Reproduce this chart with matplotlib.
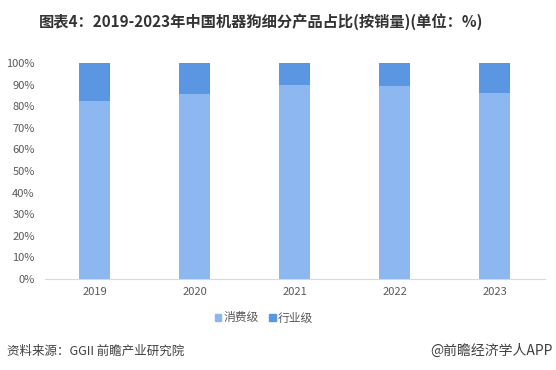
import matplotlib.pyplot as plt
from matplotlib.ticker import PercentFormatter
from matplotlib.patches import Patch

plt.rcParams['font.family'] = ['Noto Sans CJK SC', 'DejaVu Sans']

years = ['2019', '2020', '2021', '2022', '2023']
consumer = [82.5, 85.9, 90.1, 89.6, 86.4]
industry = [100 - v for v in consumer]
series_names = ['消费级', '行业级']
colors = ['#8DB7F0', '#5A96E2']

fig = plt.figure(figsize=(5.56, 3.70), dpi=100)
ax = fig.add_axes([44.5 / 556, 1 - 278.7 / 370, 500 / 556, 215.4 / 370])

x = range(len(years))
ax.bar(x, consumer, width=0.31, color=colors[0], zorder=2)
ax.bar(x, industry, width=0.31, bottom=consumer, color=colors[1], zorder=2)

ax.set_xlim(-0.5, len(years) - 0.5)
ax.set_ylim(0, 100)
ax.set_yticks(range(0, 101, 10))
ax.yaxis.set_major_formatter(PercentFormatter(decimals=0))
ax.set_xticks(list(x))
ax.set_xticklabels(years)
ax.tick_params(axis='both', length=0, labelsize=8, colors='#595959')
ax.tick_params(axis='y', pad=7)
ax.tick_params(axis='x', pad=6)
for side in ['top', 'right', 'left']:
    ax.spines[side].set_visible(False)
ax.spines['bottom'].set_color('#d9d9d9')

handles = [Patch(color=c) for c in colors]
fig.legend(handles, series_names, loc='center', bbox_to_anchor=(264 / 556, 1 - 318 / 370),
           ncol=2, frameon=False, fontsize=8.5, handlelength=0.55, handleheight=0.55,
           handletextpad=0.2, columnspacing=0.9, labelcolor='#595959')

fig.text(261 / 556, 1 - 22 / 370, '图表4：2019-2023年中国机器狗细分产品占比(按销量)(单位：%)',
         ha='center', va='center', fontsize=11, fontweight='bold', color='#333333')
fig.text(7 / 556, 1 - 351 / 370, '资料来源：GGII 前瞻产业研究院', ha='left', va='center',
         fontsize=9, color='#404040')
fig.text(553 / 556, 1 - 351 / 370, '@前瞻经济学人APP', ha='right', va='center',
         fontsize=10, color='#404040')

fig.savefig('out.png', dpi=100)
